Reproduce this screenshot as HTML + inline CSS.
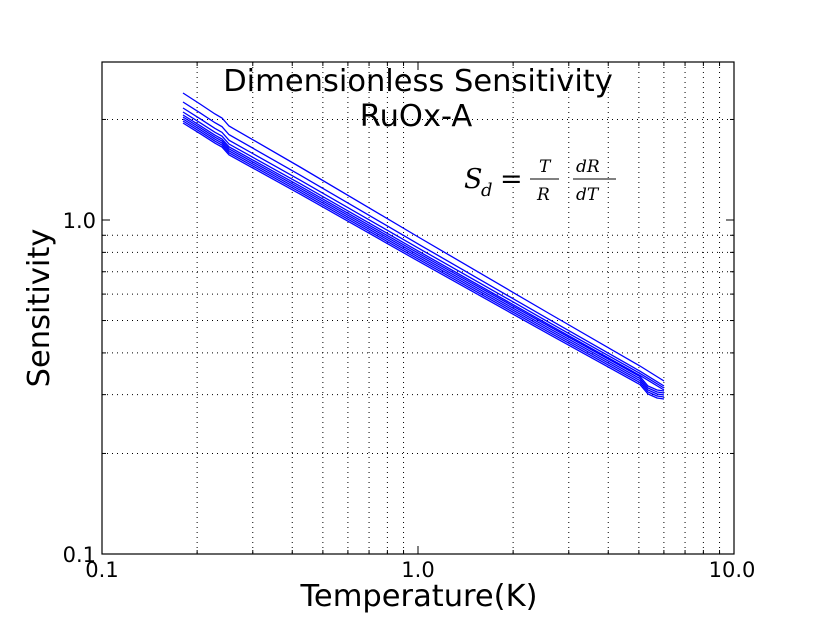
<!DOCTYPE html>
<html><head><style>body{margin:0;background:#fff}</style></head><body>
<svg width="815" height="615" xmlns="http://www.w3.org/2000/svg" font-family="'DejaVu Sans','Liberation Sans',sans-serif">
<rect width="815" height="615" fill="#fff"/>
<g id="grid" stroke="#000" stroke-width="1" stroke-dasharray="1,4" fill="none"></g>
<g id="ticks" stroke="#000" stroke-width="1" fill="none"></g>
<g id="curves" stroke="#0000ff" stroke-width="1.3" fill="none"></g>
<rect x="102" y="62" width="632" height="492" fill="none" stroke="#000" stroke-width="1.2"/>
<text x="418" y="91" font-size="30.5" text-anchor="middle">Dimensionless Sensitivity</text>
<text x="416" y="126" font-size="30.5" text-anchor="middle">RuOx-A</text>
<g font-family="'DejaVu Serif','Liberation Serif',serif" font-style="italic">
<text x="464" y="188" font-size="27">S</text>
<text x="481" y="196" font-size="18">d</text>
<text x="500" y="188" font-size="27" font-style="normal">=</text>
<text x="539" y="172" font-size="17">T</text>
<line x1="530" y1="179" x2="559" y2="179" stroke="#000" stroke-width="1"/>
<text x="537" y="200" font-size="17">R</text>
<text x="576" y="172" font-size="17">dR</text>
<line x1="573" y1="179" x2="616" y2="179" stroke="#000" stroke-width="1"/>
<text x="576" y="200" font-size="17">dT</text>
</g>
<g font-size="21" text-anchor="middle">
<text x="102" y="577">0.1</text><text x="418" y="577">1.0</text><text x="732" y="577">10.0</text>
</g>
<g font-size="21" text-anchor="end">
<text x="96" y="228">1.0</text><text x="96" y="562">0.1</text>
</g>
<text x="419" y="606" font-size="30.5" text-anchor="middle">Temperature(K)</text>
<text transform="translate(49,308) rotate(-90)" font-size="30.5" text-anchor="middle">Sensitivity</text>
</svg>
<script>
const ns="http://www.w3.org/2000/svg";
function L(g,x1,y1,x2,y2){const l=document.createElementNS(ns,'line');l.setAttribute('x1',x1);l.setAttribute('y1',y1);l.setAttribute('x2',x2);l.setAttribute('y2',y2);document.getElementById(g).appendChild(l);}
const X=v=>102+(Math.log10(v)+1)*316, Y=v=>554-(Math.log10(v)+1)*334;
for(const d of [0.1,1]){for(let k=2;k<=9;k++){const x=X(d*k);L('grid',x,62,x,554);L('ticks',x,554,x,550);L('ticks',x,62,x,66);}}
for(const x of [X(1)]){L('ticks',x,554,x,546);L('ticks',x,62,x,70);}
for(const v of [0.2,0.3,0.4,0.5,0.6,0.7,0.8,0.9,2]){const y=Y(v);L('grid',102,y,734,y);L('ticks',102,y,106,y);L('ticks',734,y,730,y);}
L('ticks',102,Y(1),110,Y(1));L('ticks',734,Y(1),726,Y(1));
const starts=[93,102,108,112,115,117,119,121,123],ends=[381,386,388,390,391,393,395,397,399];
starts.forEach((s,i)=>{const e=ends[i],d0=s-93,d1=e-381;
 const base=[[183,93],[200,104],[215,114],[222,118],[229,126],[300,167],[420,238],[550,314],[640,366],[664,381]];
 const pts=base.map(([x,y])=>{const t=(x-183)/(664-183);let dy=d0+(d1-d0)*t;return [x,y+dy];});
 if(i>=4){const last=pts[pts.length-1];pts.splice(pts.length-1,1,[648,last[1]-5],[657,last[1]-1],[664,last[1]]);}
 const p=document.createElementNS(ns,'polyline');p.setAttribute('points',pts.map(a=>a.join(',')).join(' '));document.getElementById('curves').appendChild(p);});
</script>
</body></html>
